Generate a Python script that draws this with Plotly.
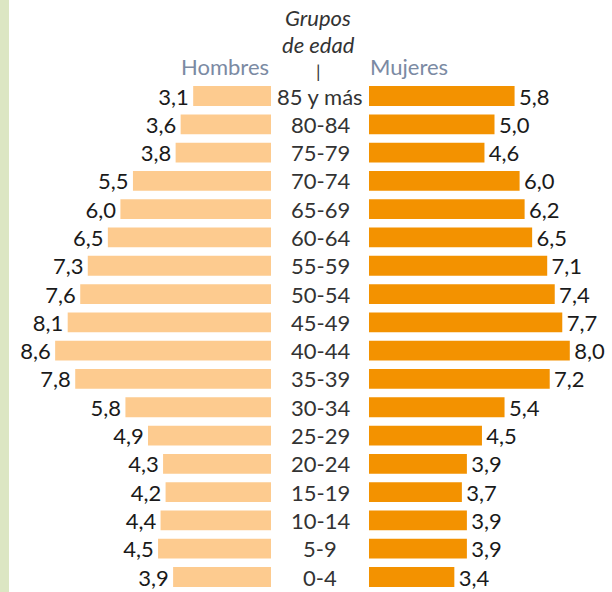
import plotly.graph_objects as go

grupos = ["85 y más", "80-84", "75-79", "70-74", "65-69", "60-64", "55-59", "50-54",
          "45-49", "40-44", "35-39", "30-34", "25-29", "20-24", "15-19", "10-14", "5-9", "0-4"]
hombres = [3.1, 3.6, 3.8, 5.5, 6.0, 6.5, 7.3, 7.6, 8.1, 8.6, 7.8, 5.8, 4.9, 4.3, 4.2, 4.4, 4.5, 3.9]
mujeres = [5.8, 5.0, 4.6, 6.0, 6.2, 6.5, 7.1, 7.4, 7.7, 8.0, 7.2, 5.4, 4.5, 3.9, 3.7, 3.9, 3.9, 3.4]

W, H = 612, 592
FONT2 = "Lato, Roboto, sans-serif"
FS = 22
idx = list(range(len(grupos)))

def fmt(v):
    return f"{v:.1f}".replace(".", ",")

fig = go.Figure()
fig.add_trace(go.Bar(
    x=hombres, y=idx, orientation="h", xaxis="x", yaxis="y",
    marker=dict(color="#fdcb8f", line=dict(width=0)),
    width=0.7, text=[fmt(v) + "\u200a" for v in hombres], textposition="outside",
    textfont=dict(family=FONT2, size=FS, color="#1a1a1a"),
    constraintext="none", cliponaxis=False, hoverinfo="skip",
))
fig.add_trace(go.Bar(
    x=mujeres, y=idx, orientation="h", xaxis="x2", yaxis="y",
    marker=dict(color="#f39200", line=dict(width=0)),
    width=0.7, text=["\u200a" + fmt(v) for v in mujeres], textposition="outside",
    textfont=dict(family=FONT2, size=FS, color="#1a1a1a"),
    constraintext="none", cliponaxis=False, hoverinfo="skip",
))

px_per_unit = 25.1
left_end = 271
right_start = 369
row0 = 96
row_step = (577 - 96) / 17

annotations = []
for i, g in enumerate(grupos):
    annotations.append(dict(x=320 / W, xref="paper", y=i, yref="y", text=g,
                            showarrow=False, xanchor="center", yanchor="middle",
                            font=dict(family=FONT2, size=FS, color="#333333")))
annotations += [
    dict(x=318 / W, xref="paper", y=1 - 18 / H, yref="paper", text="<i>Grupos</i>",
         showarrow=False, xanchor="center", yanchor="middle",
         font=dict(family=FONT2, size=FS, color="#333333")),
    dict(x=318 / W, xref="paper", y=1 - 44 / H, yref="paper", text="<i>de edad</i>",
         showarrow=False, xanchor="center", yanchor="middle",
         font=dict(family=FONT2, size=FS, color="#333333")),
    dict(x=318 / W, xref="paper", y=1 - 71 / H, yref="paper", text="|",
         showarrow=False, xanchor="center", yanchor="middle",
         font=dict(family=FONT2, size=18, color="#333333")),
    dict(x=271 / W, xref="paper", y=1 - 67 / H, yref="paper", text="Hombres",
         showarrow=False, xanchor="right", yanchor="middle",
         font=dict(family=FONT2, size=FS, color="#7b8aa3")),
    dict(x=368 / W, xref="paper", y=1 - 67 / H, yref="paper", text="Mujeres",
         showarrow=False, xanchor="left", yanchor="middle",
         font=dict(family=FONT2, size=FS, color="#7b8aa3")),
]

fig.update_layout(
    width=W, height=H, margin=dict(l=0, r=0, t=0, b=0),
    paper_bgcolor="white", plot_bgcolor="white", showlegend=False,
    barmode="overlay",
    xaxis=dict(domain=[0, left_end / W], range=[left_end / px_per_unit, 0],
               visible=False, fixedrange=True),
    xaxis2=dict(domain=[right_start / W, 1], range=[0, (W - right_start) / px_per_unit],
                visible=False, fixedrange=True),
    yaxis=dict(range=[(H - row0) / row_step, -row0 / row_step], visible=False,
               fixedrange=True),
    annotations=annotations,
    shapes=[dict(type="rect", xref="paper", yref="paper", x0=0, x1=9 / W, y0=0, y1=1,
                 fillcolor="#dce6c3", line=dict(width=0), layer="below")],
)

fig.write_html("out.html", config={"displayModeBar": False},
               post_script="document.body.style.margin='0';document.body.style.overflow='hidden';")
